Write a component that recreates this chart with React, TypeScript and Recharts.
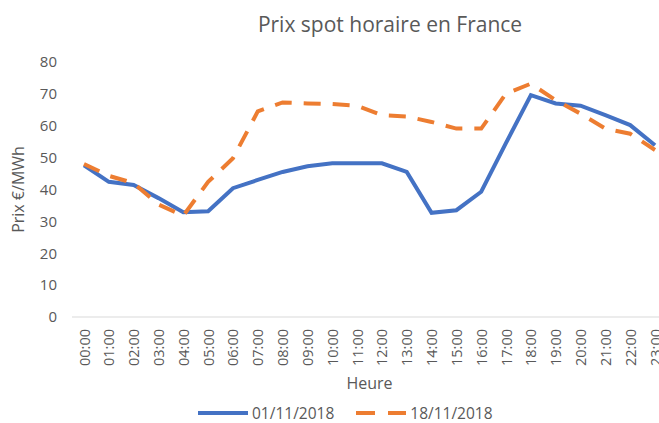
import React from "react";
import { LineChart, Line, XAxis, YAxis, Label } from "recharts";

const hours = [
  "00:00", "01:00", "02:00", "03:00", "04:00", "05:00", "06:00", "07:00",
  "08:00", "09:00", "10:00", "11:00", "12:00", "13:00", "14:00", "15:00",
  "16:00", "17:00", "18:00", "19:00", "20:00", "21:00", "22:00", "23:00",
];
const prix0111 = [
  47.6, 42.4, 41.4, 37.3, 32.9, 33.2, 40.4, 43.0, 45.5, 47.3, 48.2, 48.2,
  48.2, 45.5, 32.7, 33.5, 39.3, 54.6, 69.6, 67.0, 66.3, 63.3, 60.2, 53.9,
];
const prix1811 = [
  48.0, 44.3, 42.0, 35.3, 31.8, 42.4, 49.8, 64.5, 67.3, 67.0, 66.8, 66.3,
  63.3, 62.9, 61.2, 59.1, 59.1, 70.1, 73.2, 68.0, 63.8, 59.1, 57.5, 52.4,
];
const yTicks = [0, 10, 20, 30, 40, 50, 60, 70, 80];

const series = [
  { key: "d1", name: "01/11/2018", values: prix0111, color: "#4472C4", dash: undefined },
  { key: "d2", name: "18/11/2018", values: prix1811, color: "#ED7D31", dash: "17 12" },
];

const data = hours.map((h, i) => ({ heure: h, d1: prix0111[i], d2: prix1811[i] }));

const grey = "#595959";
const font = "'Open Sans', sans-serif";

const HourTick = (props: any) => {
  const { x, y, payload } = props;
  return (
    <text
      x={x}
      y={y + 4}
      transform={`rotate(-90 ${x} ${y + 4})`}
      textAnchor="end"
      dominantBaseline="central"
      fill={grey}
      fontSize={14.5}
      fontFamily={font}
    >
      {payload.value}
    </text>
  );
};

export default function App() {
  return (
    <div
      style={{
        position: "absolute",
        left: 0,
        top: 0,
        width: 659,
        height: 423,
        overflow: "hidden",
        background: "#fff",
        fontFamily: font,
      }}
    >
      <div
        style={{
          position: "absolute",
          left: 0,
          width: 780,
          top: 10,
          textAlign: "center",
          fontSize: 21,
          color: grey,
          lineHeight: "28px",
        }}
      >
        Prix spot horaire en France
      </div>
      <LineChart
        width={680}
        height={423}
        data={data}
        margin={{ top: 62, right: 13, left: 0, bottom: 0 }}
      >
        <XAxis
          dataKey="heure"
          interval={0}
          padding={{ left: 12, right: 12 }}
          tickLine={false}
          axisLine={{ stroke: "#D9D9D9", strokeWidth: 1 }}
          height={106}
          tick={<HourTick />}
        >
          <Label
            content={(p: any) => {
              const vb = p.viewBox;
              return (
                <text
                  x={vb.x + vb.width / 2}
                  y={383}
                  textAnchor="middle"
                  dominantBaseline="central"
                  fill={grey}
                  fontSize={16}
                  fontFamily={font}
                >
                  Heure
                </text>
              );
            }}
          />
        </XAxis>
        <YAxis
          domain={[0, 80]}
          ticks={yTicks}
          width={72}
          tickLine={false}
          axisLine={false}
          tickSize={0}
          tickMargin={15}
          tick={{ fill: grey, fontSize: 15, fontFamily: font }}
        >
          <Label
            content={(p: any) => {
              const vb = p.viewBox;
              const cy = vb.y + vb.height / 2;
              return (
                <text
                  x={18}
                  y={cy}
                  transform={`rotate(-90 18 ${cy})`}
                  textAnchor="middle"
                  dominantBaseline="central"
                  fill={grey}
                  fontSize={16}
                  fontFamily={font}
                >
                  Prix €/MWh
                </text>
              );
            }}
          />
        </YAxis>
        {series.map((s) => (
          <Line
            key={s.key}
            type="linear"
            dataKey={s.key}
            name={s.name}
            stroke={s.color}
            strokeWidth={4}
            strokeDasharray={s.dash}
            dot={false}
            activeDot={false}
            isAnimationActive={false}
          />
        ))}
      </LineChart>
      <div
        style={{
          position: "absolute",
          top: 403,
          left: 198,
          display: "flex",
          alignItems: "center",
          fontSize: 15.5,
          color: grey,
          lineHeight: "20px",
        }}
      >
        {series.map((s, i) => (
          <div
            key={s.key}
            style={{ display: "flex", alignItems: "center", marginRight: i === 0 ? 22 : 0 }}
          >
            <svg width={52} height={10} style={{ marginRight: 2 }}>
              <line
                x1={0}
                y1={5}
                x2={50}
                y2={5}
                stroke={s.color}
                strokeWidth={4}
                strokeDasharray={s.dash ? "19 13" : undefined}
              />
            </svg>
            <span>{s.name}</span>
          </div>
        ))}
      </div>
    </div>
  );
}
